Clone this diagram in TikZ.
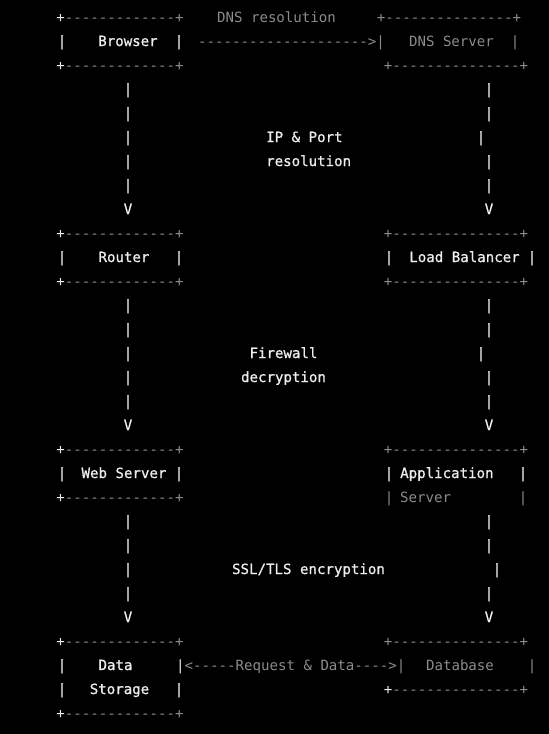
\documentclass[tikz,border=0pt]{standalone}
\usepackage{fontspec}
\usepackage{xcolor}
\newfontfamily\asciifont{DejaVu Sans Mono}[Ligatures=TeXOff]
\newfontfamily\asciiheavy{DejaVu Sans Mono}[Ligatures=TeXOff, FakeBold=0.8]
\definecolor{lite}{HTML}{EDEDED}
\definecolor{dim}{HTML}{8C8C8C}
% box borders
\newcommand{\edgel}{-------------}
\newcommand{\lbar}{\textcolor{lite}{+}\edgel+}
\newcommand{\rbar}{+\edgel--+}
\newcommand{\rbarw}{\textcolor{lite}{+}\edgel--+}

\begin{document}
\begin{tikzpicture}[x=1pt, y=-1pt,
    asc/.style={inner sep=0pt, text height=11pt, text depth=1pt,
      font=\asciifont\fontsize{14.1pt}{17pt}\selectfont},
    wt/.style={asc, text=lite, font=\asciiheavy\fontsize{14.1pt}{17pt}\selectfont},
    gr/.style={asc, text=dim}]
  \fill[black] (0,0) rectangle (549,734);
  \useasboundingbox (0,0) rectangle (549,734);

  % Browser -> DNS Server
  \node[gr] (brtop) at (120,17) {\lbar};
  \node[gr] (dnsres) at (276.5,17) {DNS resolution};
  \node[gr] (dnstop) at (449,17) {\rbar};
  \node[wt] (brl) at (62,41) {|};
  \node[wt] (browser) at (128,41) {Browser};
  \node[wt] (brr) at (179,41) {|};
  \node[gr] (dnsarrow) at (291.5,41) {-------------------->|};
  \node[gr] (dns) at (451.5,41) {DNS Server};
  \node[gr] (dnsr) at (515,41) {|};
  \node[gr] (brbot) at (120,65) {\lbar};
  \node[gr] (dnsbot) at (456,65) {\rbar};

  % IP & Port resolution
  \foreach \y in {89,113,137,161,185}
    \node[wt] (lpa\y) at (128,\y) {|};
  \foreach \y/\x in {89/489,113/489,137/481,161/489,185/489}
    \node[wt] (rpa\y) at (\x,\y) {|};
  \node[wt] (lva) at (128,209) {V};
  \node[wt] (rva) at (489,209) {V};
  \node[wt, anchor=west] (ipport) at (266,137) {IP \& Port};
  \node[wt, anchor=west] (ipres) at (266,161) {resolution};

  % Router / Load Balancer
  \node[gr] (rttop) at (120,233) {\lbar};
  \node[gr] (lbtop) at (456,233) {\rbar};
  \node[wt] (rtl) at (62,257) {|};
  \node[wt] (router) at (124,257) {Router};
  \node[wt] (rtr) at (179,257) {|};
  \node[wt] (lbl) at (389,257) {|};
  \node[wt] (lb) at (464.5,257) {Load Balancer};
  \node[wt] (lbr) at (532,257) {|};
  \node[gr] (rtbot) at (120,281) {\lbar};
  \node[gr] (lbbot) at (456,281) {\rbar};

  % Firewall decryption
  \foreach \y in {305,329,353,377,401}
    \node[wt] (lpb\y) at (128,\y) {|};
  \foreach \y/\x in {305/489,329/489,353/481,377/489,401/489}
    \node[wt] (rpb\y) at (\x,\y) {|};
  \node[wt] (lvb) at (128,425) {V};
  \node[wt] (rvb) at (489,425) {V};
  \node[wt] (fw) at (283.5,353) {Firewall};
  \node[wt] (fwdec) at (283.5,377) {decryption};

  % Web Server / Application Server
  \node[gr] (wstop) at (120,449) {\lbar};
  \node[gr] (aptop) at (456,449) {\rbar};
  \node[wt] (wsl) at (62,473) {|};
  \node[wt] (web) at (124,473) {Web Server};
  \node[wt] (wsr) at (179,473) {|};
  \node[wt] (apl) at (389,473) {|};
  \node[wt, anchor=west] (app) at (400,473) {Application};
  \node[wt] (apr) at (523,473) {|};
  \node[gr] (wsbot) at (120,497) {\lbar};
  \node[gr] (apl2) at (389,497) {|};
  \node[gr, anchor=west] (appsrv) at (400,497) {Server};
  \node[gr] (apr2) at (523,497) {|};

  % SSL/TLS encryption
  \foreach \y in {521,545,569,593}
    \node[wt] (lpc\y) at (128,\y) {|};
  \foreach \y/\x in {521/489,545/489,569/497,593/489}
    \node[wt] (rpc\y) at (\x,\y) {|};
  \node[wt] (lvc) at (128,617) {V};
  \node[wt] (rvc) at (489,617) {V};
  \node[wt] (ssl) at (308.5,569) {SSL/TLS encryption};

  % Data Storage <-> Database
  \node[gr] (dstop) at (120,641) {\lbar};
  \node[gr] (dbtop) at (456,641) {\rbar};
  \node[wt] (dsl) at (62,665) {|};
  \node[wt] (data) at (115.5,665) {Data};
  \node[gr, anchor=west] (dbarrow) at (176,665)
    {\textcolor{lite}{|}<-----Request \& Data---->|};
  \node[gr] (db) at (460,665) {Database};
  \node[gr] (dbr) at (532,665) {|};
  \node[wt] (dsl2) at (62,689) {|};
  \node[wt] (store) at (119.5,689) {Storage};
  \node[wt] (dsr2) at (179,689) {|};
  \node[gr] (dbbot) at (456,689) {\rbarw};
  \node[gr] (dsbot) at (120,713) {\lbar};
\end{tikzpicture}
\end{document}
